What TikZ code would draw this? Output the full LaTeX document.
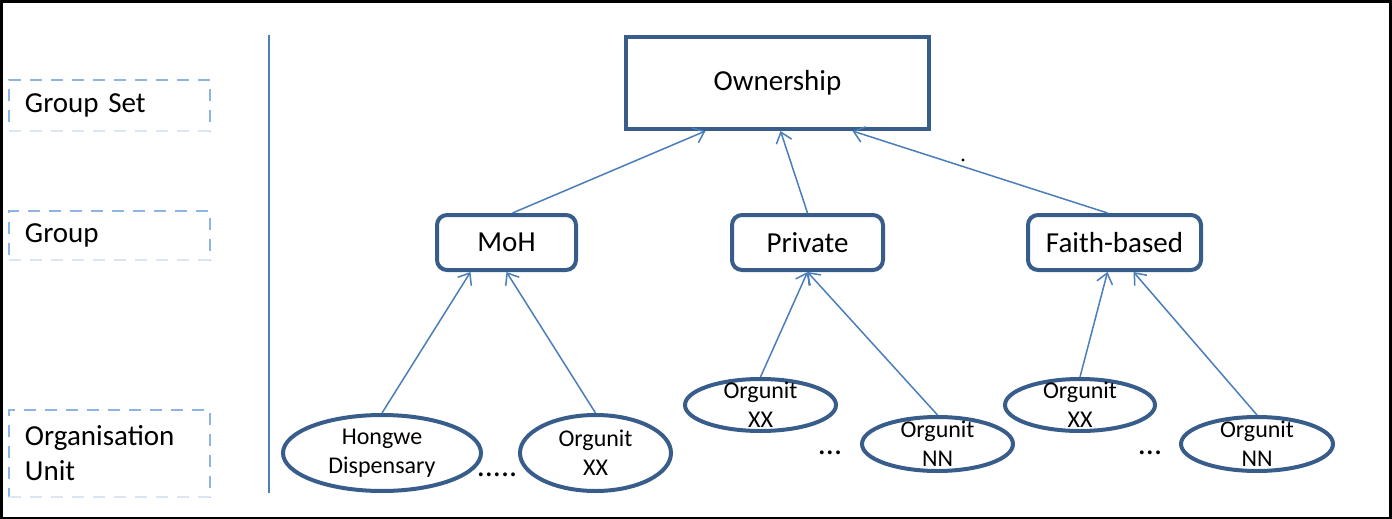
\documentclass[tikz,border=0pt]{standalone}
\usepackage{fontspec}
\setmainfont{Carlito}
\usetikzlibrary{shapes.geometric,arrows.meta}
\definecolor{boxblue}{HTML}{385D8A}
\definecolor{lineblue}{HTML}{4A7EBB}
\definecolor{dashtop}{HTML}{8EB4E3}
\definecolor{dashbot}{HTML}{DCE6F2}

\begin{document}
\begin{tikzpicture}[x=0.5pt, y=-0.5pt]
  \useasboundingbox (0,0) rectangle (1392,519);
  \draw [line width=1.5pt] (1.5,1.5) rectangle (1390,518);  % Rahmen
  \tikzstyle{lvl}=[draw=dashtop, line width=1pt, dash pattern=on 6pt off 4.5pt, outer sep=0pt, minimum width=100.5pt, inner xsep=8pt, text width=84.5pt, align=left, font=\fontsize{14.5}{17.5}\selectfont]
  \tikzstyle{gset}=[draw=boxblue, line width=2pt, inner sep=0pt, font=\fontsize{14.5}{17.5}\selectfont]
  \tikzstyle{grp}=[gset, rounded corners=5pt, minimum height=27.5pt]
  \tikzstyle{ou}=[ellipse, draw=boxblue, line width=2pt, inner sep=0pt, label={[align=center, font=\fontsize{12}{14.5}\selectfont]center:#1}]
  \tikzstyle{link}=[draw=lineblue, line width=0.75pt, -{Straight Barb[length=5pt, width=8pt]}]

  % Ebenen links
  \node[lvl, minimum height=25.5pt] (gs) at (109.5, 105.5) {Group Set};
  \node[lvl, minimum height=24.5pt] (g)  at (109.5, 235.5) {Group};
  \node[lvl, minimum height=43.5pt] (u)  at (109.5, 453.5) {Organisation\\Unit};
  \foreach \n in {gs, g, u}
    \draw [dashbot, line width=1pt, dash pattern=on 6pt off 4.5pt] (\n.south west) -- (\n.south east);
  \draw [lineblue, line width=1.25pt] (269, 35) -- (269, 493);

  \node[gset, minimum width=151.5pt, minimum height=46pt] (own) at (777.5, 83) {Ownership};
  \node[grp, minimum width=69.5pt] (moh)     at (506.5,  242.5) {MoH};
  \node[grp, minimum width=75.5pt] (private) at (807.5,  242.5) {Private};
  \node[grp, minimum width=86.5pt] (faith)   at (1114.5, 242.5) {Faith-based};

  \node[ou={Hongwe\\Dispensary}, minimum width=99pt,   minimum height=38pt] (hongwe) at (382,   453) {};
  \node[ou={Orgunit\\XX},        minimum width=75.5pt, minimum height=38pt] (mohxx)  at (595.5, 453) {};
  \node[ou={Orgunit\\XX},        minimum width=75.5pt, minimum height=26pt] (prixx)  at (760.5, 405) {};
  \node[ou={Orgunit\\NN},        minimum width=75.5pt, minimum height=27pt] (prinn)  at (937.5, 444) {};
  \node[ou={Orgunit\\XX},        minimum width=75pt,   minimum height=26pt] (faixx)  at (1080,  405) {};
  \node[ou={Orgunit\\NN},        minimum width=76pt,   minimum height=27pt] (fainn)  at (1257,  444) {};

  \node[font=\fontsize{16}{16}\selectfont] (dots1) at (497,  475) {.....};
  \node[font=\fontsize{16}{16}\selectfont] (dots2) at (830,  453) {...};
  \node[font=\fontsize{16}{16}\selectfont] (dots3) at (1150, 453) {...};
  \fill (963, 160) circle [radius=0.8pt];

  \draw[link] ([xshift=3pt]moh.north)     -- ([xshift=-36pt]own.south);
  \draw[link] (private.north)             -- ([xshift=1.5pt]own.south);
  \draw[link] ([xshift=-3.5pt]faith.north) -- ([xshift=37.5pt]own.south);
  \draw[link] (hongwe.north) -- ([xshift=-18pt]moh.south);
  \draw[link] (mohxx.north)  -- (moh.south);
  \draw[link] (prixx.north)  -- (private.south);
  \draw[link] (prinn.north)  -- (private.south);
  \draw[link] (faixx.north)  -- ([xshift=-3.5pt]faith.south);
  \draw[link] (fainn.north)  -- ([xshift=9.5pt]faith.south);
\end{tikzpicture}
\end{document}
